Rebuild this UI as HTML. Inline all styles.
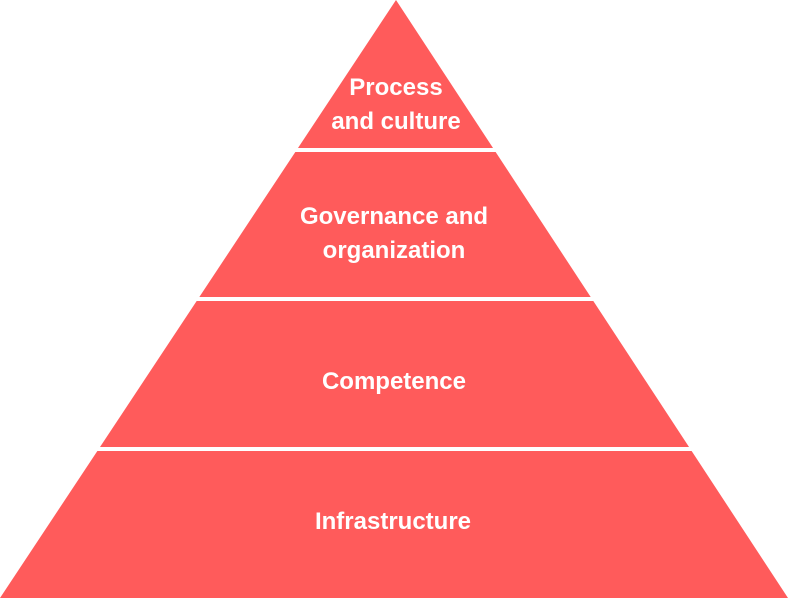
<!DOCTYPE html>
<html><head><meta charset="utf-8"><style>
html,body{margin:0;padding:0;background:#fff;}
svg{display:block}
text{font-family:"Liberation Sans",sans-serif;font-weight:bold;font-size:24px;fill:#fff;text-anchor:middle}
</style></head><body>
<svg width="788" height="598" viewBox="0 0 788 598" xmlns="http://www.w3.org/2000/svg">
<polygon points="396,0 788,598 0,598" fill="#FF5B5B"/>
<rect x="0" y="148" width="788" height="4" fill="#fff"/>
<rect x="0" y="297" width="788" height="4" fill="#fff"/>
<rect x="0" y="447" width="788" height="4" fill="#fff"/>
<text x="396" y="95">Process</text>
<text x="396" y="129">and culture</text>
<text x="394" y="224">Governance and</text>
<text x="394" y="258">organization</text>
<text x="394" y="389">Competence</text>
<text x="393" y="529">Infrastructure</text>
</svg>
</body></html>
